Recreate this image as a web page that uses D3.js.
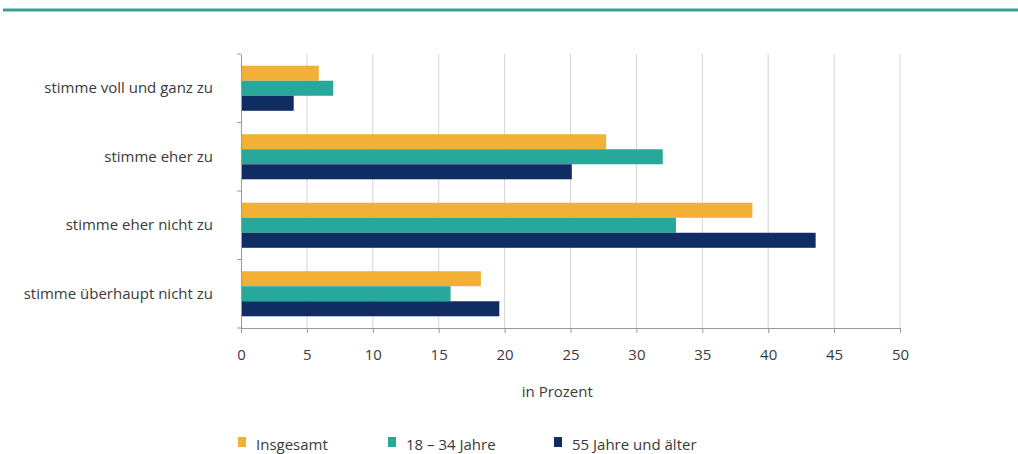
<!DOCTYPE html>
<html>
<head>
<meta charset="utf-8">
<script src="https://cdn.jsdelivr.net/npm/d3@7"></script>
<style>
  body { margin: 0; background: #fff; }
  text { font-family: "Open Sans", Arial, sans-serif; fill: #3a3a3a; }
</style>
</head>
<body>
<div id="chart"></div>
<script>
// Data
const categories = [
  'stimme voll und ganz zu',
  'stimme eher zu',
  'stimme eher nicht zu',
  'stimme überhaupt nicht zu'
];
const seriesNames = ['Insgesamt', '18 – 34 Jahre', '55 Jahre und älter'];
const insgesamt = [5.9, 27.7, 38.8, 18.2];
const jung = [7.0, 32.0, 33.0, 15.9];
const alt = [4.0, 25.1, 43.6, 19.6];
const xTicks = [0, 5, 10, 15, 20, 25, 30, 35, 40, 45, 50];
const colors = ['#f2b035', '#27a89b', '#0f2d62'];

const seriesValues = [insgesamt, jung, alt];
const rows = categories.map((c, i) => ({
  category: c,
  values: seriesNames.map((s, j) => ({ series: s, value: seriesValues[j][i] }))
}));

const W = 1018, H = 454;
const margin = { top: 54, right: 118, bottom: 126, left: 241 };
const width = W - margin.left - margin.right;
const height = H - margin.top - margin.bottom;
const fontStack = '"Open Sans", Arial, sans-serif';

const svg = d3.select('#chart')
  .append('svg')
  .attr('width', W)
  .attr('height', H);

// top rule
svg.append('line')
  .attr('x1', 3).attr('x2', W)
  .attr('y1', 10).attr('y2', 10)
  .attr('stroke', '#3a9e95')
  .attr('stroke-width', 3);

const g = svg.append('g')
  .attr('transform', `translate(${margin.left},${margin.top})`);

const x = d3.scaleLinear().domain([0, 50]).range([0, width]);
const y = d3.scaleBand().domain(categories).range([0, height]);
const ySub = d3.scaleBand().domain(seriesNames)
  .range([0, y.bandwidth()]).paddingOuter(0.78).paddingInner(0);
const color = d3.scaleOrdinal().domain(seriesNames).range(colors);

// gridlines
g.append('g')
  .selectAll('line')
  .data(xTicks.slice(1))
  .enter()
  .append('line')
  .attr('x1', d => x(d)).attr('x2', d => x(d))
  .attr('y1', 0).attr('y2', height)
  .attr('stroke', '#d4d4d4')
  .attr('stroke-width', 1);

// bars
const groups = g.selectAll('.row')
  .data(rows)
  .enter()
  .append('g')
  .attr('class', 'row')
  .attr('transform', d => `translate(0,${y(d.category)})`);

groups.selectAll('rect')
  .data(d => d.values)
  .enter()
  .append('rect')
  .attr('x', 0)
  .attr('y', d => ySub(d.series))
  .attr('width', d => x(d.value))
  .attr('height', ySub.bandwidth())
  .attr('fill', d => color(d.series));

// left axis
const yAxis = g.append('g')
  .call(d3.axisLeft(y).tickSize(0).tickPadding(28))
  .attr('class', 'axis');
yAxis.select('.domain').attr('stroke', '#999');
yAxis.selectAll('text')
  .style('font-size', '15px')
  .style('font-family', fontStack)
  .attr('fill', '#3a3a3a');

// band boundary ticks
g.append('g')
  .selectAll('line')
  .data(d3.range(categories.length + 1))
  .enter()
  .append('line')
  .attr('x1', -4).attr('x2', 0)
  .attr('y1', i => i * y.step()).attr('y2', i => i * y.step())
  .attr('stroke', '#999');

// bottom axis
const xAxis = g.append('g')
  .attr('transform', `translate(0,${height})`)
  .call(d3.axisBottom(x).tickValues(xTicks).tickSize(5).tickPadding(16));
xAxis.select('.domain').attr('stroke', '#999');
xAxis.selectAll('line').attr('stroke', '#999');
xAxis.selectAll('text')
  .style('font-size', '15px')
  .style('font-family', fontStack)
  .attr('fill', '#3a3a3a');

// axis title
g.append('text')
  .attr('x', x(24))
  .attr('y', height + 69)
  .attr('text-anchor', 'middle')
  .style('font-size', '15px')
  .text('in Prozent');

// legend
const legendX = [0, 150, 316];
const legend = svg.append('g')
  .attr('transform', `translate(${margin.left - 3},${H - 4})`);
seriesNames.forEach((s, i) => {
  const item = legend.append('g').attr('transform', `translate(${legendX[i]},0)`);
  item.append('rect')
    .attr('x', 0).attr('y', -13)
    .attr('width', 8).attr('height', 10)
    .attr('fill', colors[i]);
  item.append('text')
    .attr('x', 18).attr('y', 0)
    .style('font-size', '15px')
    .text(s);
});
</script>
</body>
</html>
